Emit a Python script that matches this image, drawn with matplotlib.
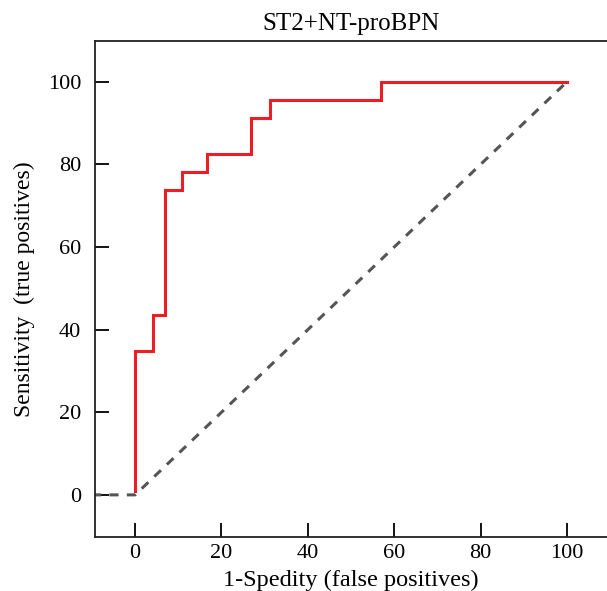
import matplotlib
matplotlib.use("Agg")
import matplotlib.pyplot as plt

fpr = [0, 0, 4.2, 4.2, 6.9, 6.9, 10.9, 10.9, 16.7, 16.7, 26.9, 26.9, 31.2, 31.2, 56.9, 56.9, 100]
tpr = [1, 34.8, 34.8, 43.5, 43.5, 73.9, 73.9, 78.3, 78.3, 82.6, 82.6, 91.3, 91.3, 95.7, 95.7, 100, 100]
ref_x = [-10, 0, 100]
ref_y = [0, 0, 100]
xticks = [0, 20, 40, 60, 80, 100]
yticks = [0, 20, 40, 60, 80, 100]

plt.rcParams['font.family'] = ['Liberation Serif', 'DejaVu Serif']
fig = plt.figure(figsize=(6.07, 5.91), dpi=100)
ax = fig.add_axes([95/607, 54/591, 512/607, 496/591])

ax.plot(ref_x, ref_y, linestyle=(0, (3, 2.7)), color='#555555', linewidth=2.2, zorder=2)
ax.plot(fpr, tpr, color='#ee1c25', linewidth=2.2, zorder=3, solid_joinstyle='miter')

ax.set_xlim(-9.3, 109.3)
ax.set_ylim(-10.2, 109.9)
ax.set_xticks(xticks)
ax.set_yticks(yticks)
ax.tick_params(direction='in', length=10, width=1.3, labelsize=16, colors='black')
ax.tick_params(axis='y', pad=10)
ax.tick_params(axis='x', pad=5)
for s in ['left', 'top', 'bottom']:
    ax.spines[s].set_linewidth(1.3)
    ax.spines[s].set_color('#222222')
ax.spines['right'].set_visible(False)

ax.set_title('ST2+NT-proBPN', fontsize=18, pad=8)
ax.set_xlabel('1-Spedity (false positives)', fontsize=17.5, labelpad=5)
ax.set_ylabel('Sensitivity  (true positives)', fontsize=17, labelpad=9)

fig.savefig('out.png', dpi=100)
